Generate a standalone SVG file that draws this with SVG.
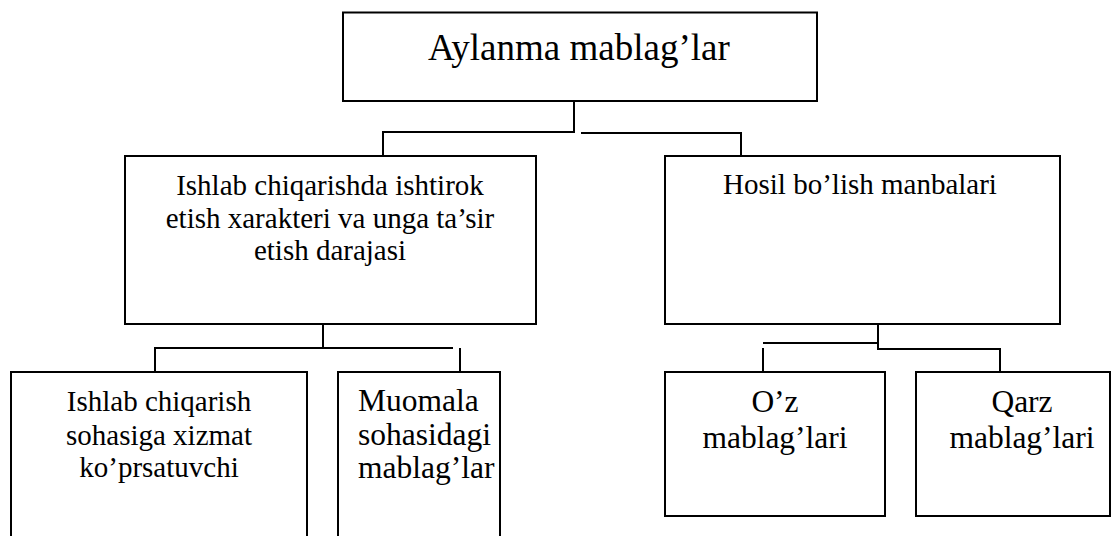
<svg xmlns="http://www.w3.org/2000/svg" width="1117" height="536" viewBox="0 0 1117 536">
  <style>
    .box { fill: #fff; stroke: #000; stroke-width: 2; }
    .link { fill: none; stroke: #000; stroke-width: 2; }
    text { font-family: "Liberation Serif", "Times New Roman", serif; fill: #000; }
    .t29 { font-size: 29px; }
    .t31 { font-size: 31.5px; }
    .t37 { font-size: 37px; }
    .mid { text-anchor: middle; }
  </style>
  <rect width="1117" height="536" fill="#fff"/>

  <g id="connectors">
    <!-- root to left branch -->
    <polyline class="link" points="574,101 574,132 383,132 383,156"/>
    <!-- root to right branch -->
    <polyline class="link" points="581,133 741,133 741,156"/>
    <!-- left branch to its children -->
    <polyline class="link" points="323,324 323,348"/>
    <polyline class="link" points="155,372 155,348 453,348"/>
    <polyline class="link" points="460,348 460,372"/>
    <!-- right branch to its children -->
    <polyline class="link" points="878,324 878,349 1000,349 1000,372"/>
    <polyline class="link" points="878,343 763,343"/>
    <polyline class="link" points="763,348 763,372"/>
  </g>

  <g id="node-root">
    <rect class="box" x="343" y="12.5" width="474" height="88.5"/>
    <text class="t37" x="428" y="60">Aylanma mablag’lar</text>
  </g>

  <g id="node-participation">
    <rect class="box" x="125" y="156" width="411" height="168"/>
    <text class="t29 mid" x="330" y="195">Ishlab chiqarishda ishtirok</text>
    <text class="t29 mid" x="330" y="228">etish xarakteri va unga ta’sir</text>
    <text class="t29 mid" x="330" y="260">etish darajasi</text>
  </g>

  <g id="node-sources">
    <rect class="box" x="665" y="156" width="395" height="168"/>
    <text class="t29 mid" x="860" y="194">Hosil bo’lish manbalari</text>
  </g>

  <g id="node-production">
    <rect class="box" x="11" y="372" width="296" height="180"/>
    <text class="t29 mid" x="159" y="411">Ishlab chiqarish</text>
    <text class="t29 mid" x="159" y="445">sohasiga xizmat</text>
    <text class="t29 mid" x="159" y="477">ko’prsatuvchi</text>
  </g>

  <g id="node-circulation">
    <rect class="box" x="338" y="372" width="162" height="180"/>
    <text class="t31" x="358" y="411">Muomala</text>
    <text class="t31" x="358" y="445">sohasidagi</text>
    <text class="t31" x="358" y="478">mablag’lar</text>
  </g>

  <g id="node-own">
    <rect class="box" x="665" y="372" width="220" height="144"/>
    <text class="t31 mid" x="775" y="412">O’z</text>
    <text class="t31 mid" x="775" y="448">mablag’lari</text>
  </g>

  <g id="node-borrowed">
    <rect class="box" x="916" y="372" width="194" height="144"/>
    <text class="t31 mid" x="1022" y="412">Qarz</text>
    <text class="t31 mid" x="1022" y="448">mablag’lari</text>
  </g>
</svg>
